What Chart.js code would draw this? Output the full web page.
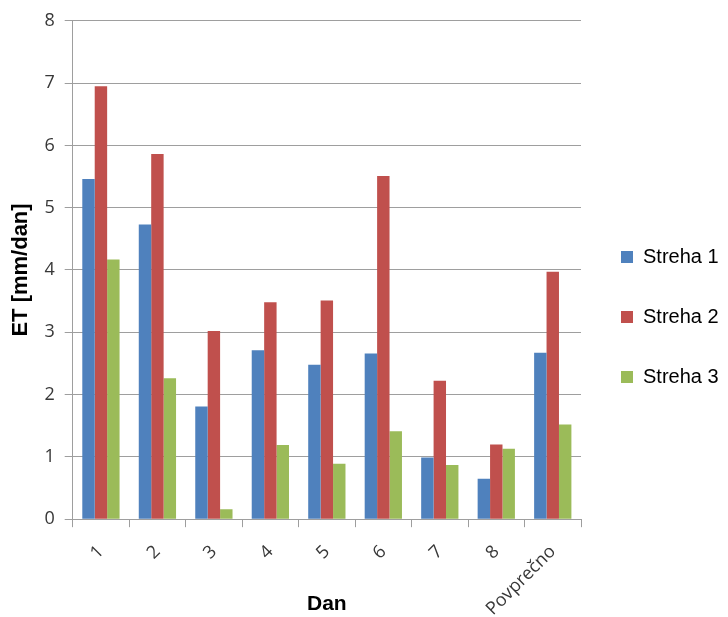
<!DOCTYPE html>
<html>
<head>
<meta charset="utf-8">
<script src="https://cdn.jsdelivr.net/npm/chart.js@4/dist/chart.umd.min.js"></script>
<style>
    html, body { margin: 0; padding: 0; background: #fff; }
    #wrap { width: 728px; height: 617px; }
</style>
</head>
<body>
<div id="wrap"><canvas id="etChart" width="728" height="617"></canvas></div>
<script>
const days = ['1', '2', '3', '4', '5', '6', '7', '8', 'Povprečno'];
const streha1 = [5.46, 4.73, 1.81, 2.71, 2.48, 2.66, 0.99, 0.65, 2.67];
const streha2 = [6.95, 5.86, 3.02, 3.48, 3.51, 5.51, 2.22, 1.20, 3.97];
const streha3 = [4.17, 2.26, 0.16, 1.19, 0.89, 1.41, 0.87, 1.13, 1.52];
const seriesNames = ['Streha 1', 'Streha 2', 'Streha 3'];
const yTicks = [0, 1, 2, 3, 4, 5, 6, 7, 8];

const colors = ['#4F81BD', '#C0504D', '#9BBB59'];
const gridColor = '#9e9e9e';
const textColor = '#383838';

const ctx = document.getElementById('etChart').getContext('2d');
const etChart = new Chart(ctx, {
    type: 'bar',
    data: {
        labels: days,
        datasets: [streha1, streha2, streha3].map((values, i) => ({
            label: seriesNames[i],
            data: values,
            backgroundColor: colors[i],
            borderWidth: 0
        }))
    },
    options: {
        responsive: false,
        animation: false,
        categoryPercentage: 0.66,
        barPercentage: 1.0,
        layout: {
            padding: { left: 8, top: 17, right: 0, bottom: 0 }
        },
        scales: {
            x: {
                grid: {
                    display: true,
                    drawOnChartArea: false,
                    drawTicks: true,
                    tickLength: 8,
                    color: gridColor,
                    offset: true
                },
                border: { color: gridColor, width: 1 },
                ticks: {
                    color: textColor,
                    font: { family: 'Open Sans', size: 18 },
                    minRotation: 45,
                    maxRotation: 45,
                    padding: 14
                },
                title: {
                    display: true,
                    text: 'Dan',
                    color: '#000',
                    font: { family: 'Liberation Sans', size: 21, weight: 'bold' },
                    padding: { top: -42, bottom: 0 }
                }
            },
            y: {
                min: 0,
                max: 8,
                afterBuildTicks: (axis) => {
                    axis.ticks = yTicks.map(v => ({ value: v }));
                },
                grid: {
                    color: gridColor,
                    lineWidth: 1,
                    drawTicks: true,
                    tickLength: 8
                },
                border: { color: gridColor, width: 1 },
                ticks: {
                    color: textColor,
                    font: { family: 'Open Sans', size: 18 },
                    padding: 10
                },
                title: {
                    display: true,
                    text: 'ET [mm/dan]',
                    color: '#000',
                    font: { family: 'Liberation Sans', size: 22, weight: 'bold' },
                    padding: { top: 0, bottom: 0 }
                }
            }
        },
        plugins: {
            legend: {
                position: 'right',
                maxWidth: 147,
                labels: {
                    boxWidth: 12,
                    boxHeight: 12,
                    padding: 40,
                    color: '#000',
                    font: { family: 'Liberation Sans', size: 20 }
                }
            },
            tooltip: { enabled: false }
        }
    }
});
</script>
</body>
</html>
